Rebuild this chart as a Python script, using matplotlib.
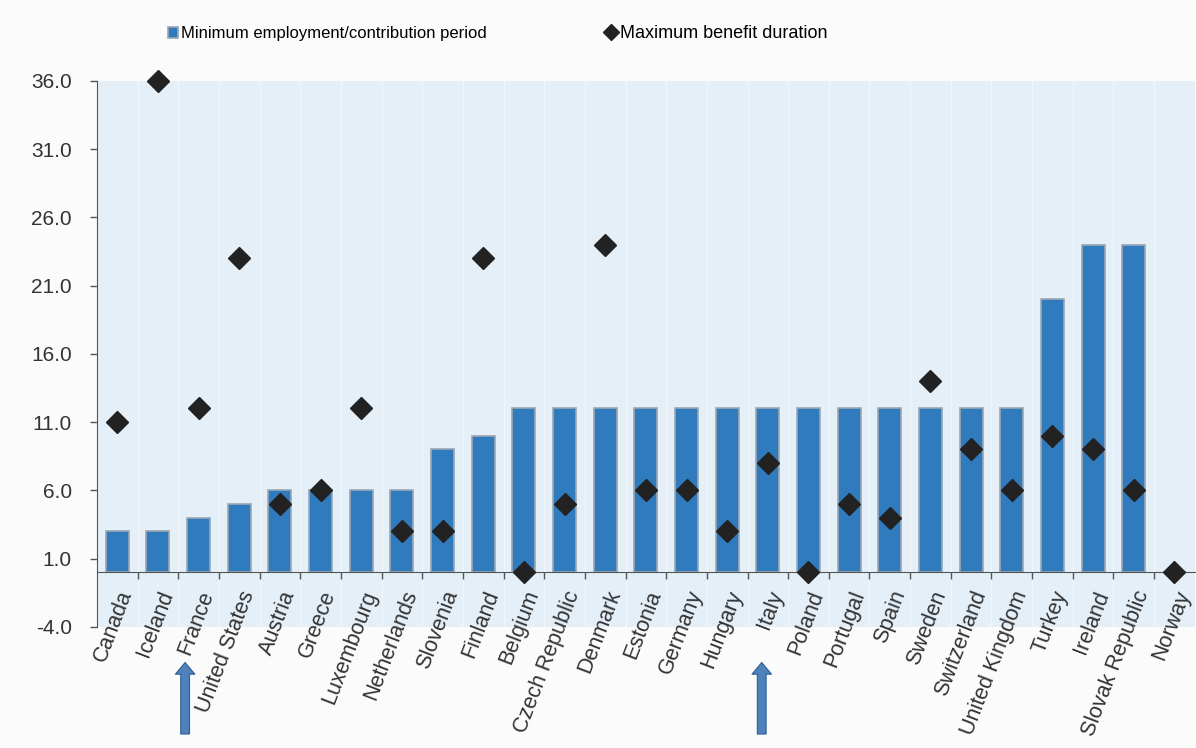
import numpy as np
import matplotlib
matplotlib.use('Agg')
import matplotlib.pyplot as plt
from matplotlib.ticker import FixedLocator, FormatStrFormatter

countries = ['Canada', 'Iceland', 'France', 'United States', 'Austria', 'Greece',
             'Luxembourg', 'Netherlands', 'Slovenia', 'Finland', 'Belgium',
             'Czech Republic', 'Denmark', 'Estonia', 'Germany', 'Hungary', 'Italy',
             'Poland', 'Portugal', 'Spain', 'Sweden', 'Switzerland',
             'United Kingdom', 'Turkey', 'Ireland', 'Slovak Republic', 'Norway']
min_period = [3, 3, 4, 5, 6, 6, 6, 6, 9, 10, 12, 12, 12, 12, 12, 12, 12,
              12, 12, 12, 12, 12, 12, 20, 24, 24, 0]
max_duration = [11, 36, 12, 23, 5, 6, 12, 3, 3, 23, 0, 5, 24, 6, 6, 3, 8,
                0, 5, 4, 14, 9, 6, 10, 9, 6, 0]
y_ticks = [-4, 1, 6, 11, 16, 21, 26, 31, 36]
marked = ['France', 'Italy']

plt.rcParams['font.family'] = ['Liberation Sans', 'DejaVu Sans']

fig = plt.figure(figsize=(11.96, 7.48), dpi=100, facecolor='#fbfbfc')
ax = fig.add_axes([0.081, 0.162, 0.918, 0.730])
ax.set_facecolor('#e4eff8')

# spine position first: it resets the ticks
for s in ['top', 'right']:
    ax.spines[s].set_visible(False)
ax.spines['bottom'].set_position(('data', 0))
ax.spines['bottom'].set_color('#555555')
ax.spines['bottom'].set_zorder(3)
ax.spines['left'].set_color('#555555')

x = np.arange(len(countries))
bars = ax.bar(x, min_period, width=0.56, color='#2f7bbd', edgecolor='#9aa6b2',
              linewidth=1.2, zorder=2, label='Minimum employment/contribution period')
pts = ax.plot(x, max_duration, linestyle='none', marker='D', markersize=11,
              color='#222222', zorder=4, clip_on=False,
              label='Maximum benefit duration')

# faint vertical lines in the shaded area
for b in x[:-1] + 0.5:
    ax.axvline(b, color='white', linewidth=0.8, alpha=0.5, zorder=1)

ax.set_xlim(-0.5, len(countries) - 0.5)
ax.set_ylim(-4, 36)
ax.set_yticks(y_ticks)
ax.yaxis.set_major_formatter(FormatStrFormatter('%.1f'))
ax.tick_params(axis='y', labelsize=15, labelcolor='#333333', color='#555555',
               length=5, width=1, pad=13)

ax.set_xticks(x)
ax.xaxis.set_minor_locator(FixedLocator(x[:-1] + 0.5))
ax.tick_params(axis='x', which='major', length=0, pad=11)
ax.tick_params(axis='x', which='minor', length=5, width=1, color='#555555')
ax.set_xticklabels(countries, rotation=69, ha='right', rotation_mode='anchor',
                   fontsize=15.5, color='#333333')

leg1 = fig.legend(handles=[bars], loc='upper left', bbox_to_anchor=(0.128, 0.985),
                  frameon=False, fontsize=12, handlelength=0.6,
                  handletextpad=0.2, markerscale=0.7)
leg2 = fig.legend(handles=[pts[0]], loc='upper left', bbox_to_anchor=(0.493, 0.988),
                  frameon=False, fontsize=13, handlelength=0.6,
                  handletextpad=0.2, markerscale=0.7)

# blue arrows under the marked countries
for name, dx in zip(marked, [-0.33, -0.15]):
    i = countries.index(name)
    ax.annotate('', xy=(i + dx, 0.118), xycoords=('data', 'figure fraction'),
                xytext=(i + dx, 0.015), textcoords=('data', 'figure fraction'),
                arrowprops=dict(arrowstyle='simple,head_length=0.6,head_width=1.0,tail_width=0.45',
                                mutation_scale=14, facecolor='#4f81bd',
                                edgecolor='#2f5f8f', linewidth=0.8),
                annotation_clip=False)

fig.savefig('out.png', dpi=100, facecolor=fig.get_facecolor())
